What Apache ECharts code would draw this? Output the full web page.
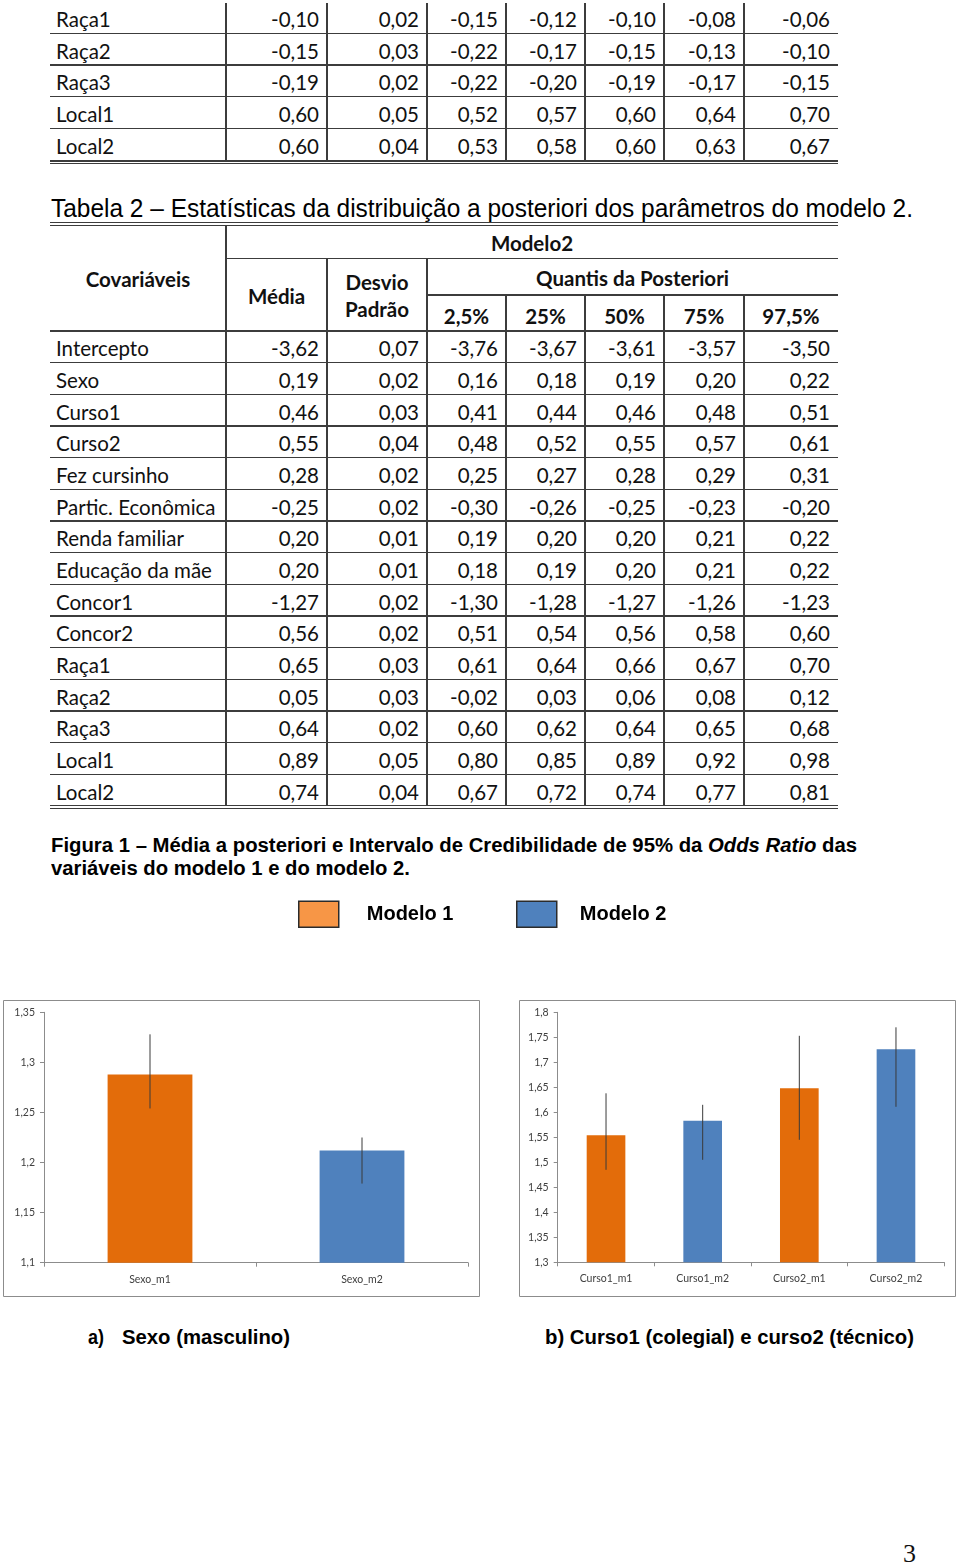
<!DOCTYPE html>
<html>
<head>
<meta charset="utf-8">
<script src="https://cdn.jsdelivr.net/npm/echarts@6/dist/echarts.min.js"></script>
<style>
  body { margin: 0; background: #fff; }
  #page { position: relative; width: 960px; height: 1567px; overflow: hidden; font-family: Lato, sans-serif; color: #111; }
  .c { position: absolute; display: flex; align-items: center; box-sizing: border-box; font-size: 20.5px; white-space: nowrap; }
  .r { padding-top: 3px; }
  .b { font-weight: bold; }
  .ln { position: absolute; background: #3c3c3c; }
  .nw { position: absolute; font-family: "Liberation Sans Narrow", "Liberation Sans", Arial, sans-serif; white-space: nowrap; line-height: 1; transform-origin: 0 50%; color: #000; }
</style>
</head>
<body>
<div id="page">
  <div class="nw" data-w="862" style="left:51px;top:196px;font-size:25px;">Tabela 2 – Estatísticas da distribuição a posteriori dos parâmetros do modelo 2.</div>
  <div class="nw" data-w="806" style="left:51px;top:835px;font-size:20px;font-weight:bold;">Figura 1 – Média a posteriori e Intervalo de Credibilidade de 95% da <i>Odds Ratio</i> das</div>
  <div class="nw" data-w="359" style="left:51px;top:858px;font-size:20px;font-weight:bold;">variáveis do modelo 1 e do modelo 2.</div>
  <div class="nw" data-w="16" style="left:88px;top:1327px;font-size:20px;font-weight:bold;">a)</div>
  <div class="nw" data-w="168" style="left:122px;top:1327px;font-size:20px;font-weight:bold;">Sexo (masculino)</div>
  <div class="nw" data-w="369" style="left:545px;top:1327px;font-size:20px;font-weight:bold;">b) Curso1 (colegial) e curso2 (técnico)</div>
  <div style="position:absolute;left:903px;top:1541px;font-family:'Liberation Serif',serif;font-size:26px;line-height:1;">3</div>
  <div id="chart" style="position:absolute;left:0;top:890px;width:960px;height:420px;"></div>
</div>
<script type="text/javascript">
    // final da tabela 1 (modelo 1)
    var t1Names = ['Raça1', 'Raça2', 'Raça3', 'Local1', 'Local2'];
    var t1Vals = [
        [-0.10, 0.02, -0.15, -0.12, -0.10, -0.08, -0.06],
        [-0.15, 0.03, -0.22, -0.17, -0.15, -0.13, -0.10],
        [-0.19, 0.02, -0.22, -0.20, -0.19, -0.17, -0.15],
        [0.60, 0.05, 0.52, 0.57, 0.60, 0.64, 0.70],
        [0.60, 0.04, 0.53, 0.58, 0.60, 0.63, 0.67]
    ];

    // tabela 2 (modelo 2)
    var t2Names = ['Intercepto', 'Sexo', 'Curso1', 'Curso2', 'Fez cursinho', 'Partic. Econômica', 'Renda familiar',
        'Educação da mãe', 'Concor1', 'Concor2', 'Raça1', 'Raça2', 'Raça3', 'Local1', 'Local2'];
    var t2Vals = [
        [-3.62, 0.07, -3.76, -3.67, -3.61, -3.57, -3.50],
        [0.19, 0.02, 0.16, 0.18, 0.19, 0.20, 0.22],
        [0.46, 0.03, 0.41, 0.44, 0.46, 0.48, 0.51],
        [0.55, 0.04, 0.48, 0.52, 0.55, 0.57, 0.61],
        [0.28, 0.02, 0.25, 0.27, 0.28, 0.29, 0.31],
        [-0.25, 0.02, -0.30, -0.26, -0.25, -0.23, -0.20],
        [0.20, 0.01, 0.19, 0.20, 0.20, 0.21, 0.22],
        [0.20, 0.01, 0.18, 0.19, 0.20, 0.21, 0.22],
        [-1.27, 0.02, -1.30, -1.28, -1.27, -1.26, -1.23],
        [0.56, 0.02, 0.51, 0.54, 0.56, 0.58, 0.60],
        [0.65, 0.03, 0.61, 0.64, 0.66, 0.67, 0.70],
        [0.05, 0.03, -0.02, 0.03, 0.06, 0.08, 0.12],
        [0.64, 0.02, 0.60, 0.62, 0.64, 0.65, 0.68],
        [0.89, 0.05, 0.80, 0.85, 0.89, 0.92, 0.98],
        [0.74, 0.04, 0.67, 0.72, 0.74, 0.77, 0.81]
    ];
    var t2Quantis = ['2,5%', '25%', '50%', '75%', '97,5%'];

    // figura 1: odds ratio (média e IC 95%)
    var sexoCats = ['Sexo_m1', 'Sexo_m2'];
    var sexoModelo = [1, 2];
    var sexoMedia = [1.288, 1.212];
    var sexoInf = [1.254, 1.179];
    var sexoSup = [1.328, 1.225];

    var cursoCats = ['Curso1_m1', 'Curso1_m2', 'Curso2_m1', 'Curso2_m2'];
    var cursoModelo = [1, 2, 1, 2];
    var cursoMedia = [1.554, 1.583, 1.648, 1.726];
    var cursoInf = [1.485, 1.505, 1.545, 1.611];
    var cursoSup = [1.638, 1.615, 1.753, 1.770];

    var page = document.getElementById('page');
    var colX = [50, 226, 327, 427, 506, 585, 664, 744, 838];

    function num(v) {
        return v.toFixed(2).replace('.', ',');
    }

    function cell(x, y, w, h, html, align, cls) {
        var d = document.createElement('div');
        d.className = 'c' + (cls ? ' ' + cls : '');
        d.style.left = x + 'px';
        d.style.top = y + 'px';
        d.style.width = w + 'px';
        d.style.height = h + 'px';
        if (align == 'left') { d.style.justifyContent = 'flex-start'; d.style.paddingLeft = '6px'; }
        else if (align == 'right') { d.style.justifyContent = 'flex-end'; d.style.paddingRight = '8px'; }
        else { d.style.justifyContent = 'center'; d.style.textAlign = 'center'; }
        d.innerHTML = html;
        page.appendChild(d);
        return d;
    }

    function hline(x1, x2, y, t) {
        var d = document.createElement('div');
        d.className = 'ln';
        d.style.left = x1 + 'px';
        d.style.width = (x2 - x1) + 'px';
        d.style.top = (y - t / 2) + 'px';
        d.style.height = t + 'px';
        page.appendChild(d);
    }

    function vline(x, y1, y2) {
        var d = document.createElement('div');
        d.className = 'ln';
        d.style.left = (x - 0.7) + 'px';
        d.style.width = '1.4px';
        d.style.top = y1 + 'px';
        d.style.height = (y2 - y1) + 'px';
        page.appendChild(d);
    }

    function rows(names, vals, top, h) {
        names.forEach(function(n, i) {
            var y = top + i * h;
            cell(colX[0], y, colX[1] - colX[0], h, n, 'left', 'r');
            vals[i].forEach(function(v, j) {
                cell(colX[j + 1], y, colX[j + 2] - colX[j + 1], h, num(v), 'right', 'r');
            });
        });
    }

    // tabela 1
    var h1 = 31.7, top1 = 1.6;
    rows(t1Names, t1Vals, top1, h1);
    for (var i = 1; i < t1Names.length; i++) hline(50, 838, top1 + i * h1, 1.5);
    hline(50, 838, 161, 1.3);
    hline(50, 838, 163.6, 1.3);
    for (var k = 1; k < 8; k++) vline(colX[k], 3, 161);

    // tabela 2
    var h2 = 31.67, top2 = 331;
    hline(50, 838, 222.5, 1.3);
    hline(50, 838, 225.2, 1.3);
    cell(50, 226, 176, 105, 'Covariáveis', 'center', 'b');
    cell(226, 227, 612, 32.5, 'Modelo2', 'center', 'b');
    cell(226, 259.5, 101, 72.5, 'Média', 'center', 'b');
    cell(327, 259.5, 100, 72.5, '<span style="line-height:27px">Desvio<br>Padrão</span>', 'center', 'b');
    cell(427, 259.5, 411, 36.5, 'Quantis da Posteriori', 'center', 'b');
    t2Quantis.forEach(function(q, j) {
        cell(colX[j + 3], 298, colX[j + 4] - colX[j + 3], 36, q, 'center', 'b');
    });
    hline(226, 838, 258.5, 1.5);
    hline(427, 838, 295, 1.5);
    hline(50, 838, 331, 2.2);
    rows(t2Names, t2Vals, top2, h2);
    for (var i2 = 1; i2 < t2Names.length; i2++) hline(50, 838, top2 + i2 * h2, 1.5);
    hline(50, 838, 805.6, 1.3);
    hline(50, 838, 808.3, 1.3);
    vline(226, 226, 805);
    vline(327, 258.5, 805);
    vline(427, 258.5, 805);
    for (var k2 = 4; k2 < 8; k2++) vline(colX[k2], 295, 805);

    // textos em fonte estreita: ajusta largura
    document.querySelectorAll('.nw[data-w]').forEach(function(el) {
        var w = el.getBoundingClientRect().width;
        el.style.transform = 'scaleX(' + (el.getAttribute('data-w') / w) + ')';
    });

    // grafico
    var laranja = '#E36C0A', azul = '#4F81BD';

    function fmt(v) {
        return String(+v.toFixed(2)).replace('.', ',');
    }

    function barData(vals, modelos, m) {
        return vals.map(function(v, i) { return modelos[i] == m ? v : '-'; });
    }

    function errData(inf, sup) {
        return inf.map(function(v, i) { return [i, v, sup[i]]; });
    }

    function errItem(params, api) {
        var a = api.coord([api.value(0), api.value(1)]);
        var b = api.coord([api.value(0), api.value(2)]);
        return {
            type: 'line',
            shape: { x1: a[0], y1: a[1], x2: b[0], y2: b[1] },
            style: { stroke: '#3a3a3a', lineWidth: 1 }
        };
    }

    function xAx(idx, cats) {
        return {
            gridIndex: idx, type: 'category', data: cats,
            axisLine: { lineStyle: { color: '#8c8c8c', width: 1 } },
            axisTick: { show: true, length: 4, lineStyle: { color: '#8c8c8c' } },
            axisLabel: { color: '#404040', fontSize: 10.5, fontFamily: 'Lato', margin: 11 }
        };
    }

    function yAx(idx, min, max) {
        return {
            gridIndex: idx, type: 'value', min: min, max: max, interval: 0.05,
            axisLine: { show: true, lineStyle: { color: '#8c8c8c', width: 1 } },
            axisTick: { show: true, length: 4, lineStyle: { color: '#8c8c8c' } },
            splitLine: { show: false },
            axisLabel: { color: '#404040', fontSize: 10.5, fontFamily: 'Lato', margin: 9, formatter: fmt }
        };
    }

    function barras(idx, vals, modelos, inf, sup) {
        return [
            { type: 'bar', name: 'Modelo 1', xAxisIndex: idx, yAxisIndex: idx, data: barData(vals, modelos, 1),
              barWidth: '40%', barGap: '-100%', itemStyle: { color: laranja } },
            { type: 'bar', name: 'Modelo 2', xAxisIndex: idx, yAxisIndex: idx, data: barData(vals, modelos, 2),
              barWidth: '40%', barGap: '-100%', itemStyle: { color: azul } },
            { type: 'custom', name: 'IC', xAxisIndex: idx, yAxisIndex: idx, renderItem: errItem,
              data: errData(inf, sup), z: 10, silent: true }
        ];
    }

    function leg(nome, cor, left, gap) {
        return {
            data: [{ name: nome, itemStyle: { color: cor, borderColor: '#2b2b2b', borderWidth: 1.5 } }],
            left: left, top: 10.5, padding: 0, icon: 'rect', itemWidth: 40, itemHeight: 26,
            selectedMode: false,
            textStyle: { fontFamily: 'Liberation Sans', fontWeight: 'bold', fontSize: 20, color: '#000', padding: [2, 0, 0, gap] }
        };
    }

    var option = {
        animation: false,
        legend: [leg('Modelo 1', '#F79646', 298, 23), leg('Modelo 2', '#4F81BD', 516, 18)],
        graphic: [
            { type: 'rect', shape: { x: 3.5, y: 110.5, width: 476, height: 296 }, style: { fill: 'none', stroke: '#8c8c8c', lineWidth: 1 } },
            { type: 'rect', shape: { x: 519.5, y: 110.5, width: 436, height: 296 }, style: { fill: 'none', stroke: '#8c8c8c', lineWidth: 1 } }
        ],
        grid: [
            { left: 44, top: 122.3, width: 424, height: 250.4 },
            { left: 557.7, top: 122.3, width: 386.6, height: 250 }
        ],
        xAxis: [xAx(0, sexoCats), xAx(1, cursoCats)],
        yAxis: [yAx(0, 1.1, 1.35), yAx(1, 1.3, 1.8)],
        series: barras(0, sexoMedia, sexoModelo, sexoInf, sexoSup)
            .concat(barras(1, cursoMedia, cursoModelo, cursoInf, cursoSup))
    };

    var myChart = echarts.init(document.getElementById('chart'));
    myChart.setOption(option);
</script>
</body>
</html>
